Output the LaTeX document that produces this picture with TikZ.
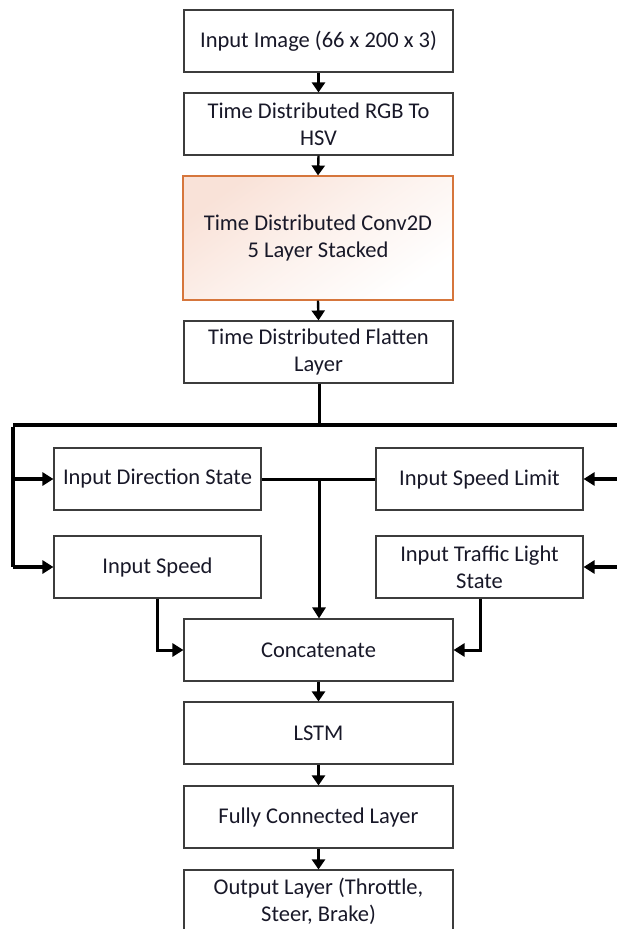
\documentclass[tikz,border=0pt]{standalone}
\usepackage{fontspec}
\setmainfont{Carlito}
\usetikzlibrary{arrows.meta,calc}
\definecolor{txt}{RGB}{24,24,40}
\definecolor{edge}{RGB}{60,60,60}
\definecolor{convedge}{RGB}{214,118,60}
\definecolor{convtint}{RGB}{249,226,216}
\tikzset{
  box/.style={draw=edge, line width=1.1pt, minimum width=269pt, minimum height=62pt,
    align=center, text=txt, font=\fontsize{22.5}{27}\selectfont, inner sep=2pt},
  sidebox/.style={box, minimum width=207pt},
  flow/.style={line width=2.4pt, -{Triangle[length=10pt,width=13pt]}},
  bus/.style={line width=3.6pt},
  busarrow/.style={line width=3.6pt, -{Triangle[length=11pt,width=13pt]}},
  feed/.style={line width=3pt, -{Triangle[length=11pt,width=13pt]}},
  link/.style={line width=3pt},
}
\begin{document}
\begin{tikzpicture}[x=1pt,y=-1pt]
\useasboundingbox (0,0) rectangle (617,929);

% main column
\node[box] (img) at (318.5,41) {Input Image (66 x 200 x 3)};
\node[box] (hsv) at (318.5,124) {Time Distributed RGB To\\HSV};
% soft tint in the convolution block, strongest at the upper left corner
\shade[top color=convtint, bottom color=white, middle color=white!55!convtint, shading angle=35]
  (183,176) rectangle (453,300);
\node[box, draw=convedge, minimum height=124pt, minimum width=270pt] (conv) at (318,238)
  {Time Distributed Conv2D\\5 Layer Stacked};
\node[box] (flat) at (318.5,352) {Time Distributed Flatten\\Layer};

% side inputs
\node[sidebox] (dir) at (157.5,479) {Input Direction State};
\node[sidebox] (spd) at (157.5,567) {Input Speed};
\node[sidebox] (lim) at (479.5,479) {Input Speed Limit};
\node[sidebox] (tl) at (479.5,567) {Input Traffic Light\\State};

% merge and output
\node[box] (cat) at (318.5,650) {Concatenate};
\node[box] (lstm) at (318.5,733) {LSTM};
\node[box] (fc) at (318.5,817) {Fully Connected Layer};
\node[box] (out) at (318.5,901) {Output Layer (Throttle,\\Steer, Brake)};

% bus coordinates
\coordinate (busL) at (13,425);
\coordinate (busM) at (319,425);
\coordinate (busR) at (617,425);
\coordinate (limR) at (617,479);
\coordinate (tlR) at (617,567);
\coordinate (junc) at (319,479);

% straight flow
\draw[flow] (img.south) -- (hsv.north);
\draw[flow] (hsv.south) -- (conv.north);
\draw[flow] (conv.south) -- (flat.north);
\draw[flow] (cat.south) -- (lstm.north);
\draw[flow] (lstm.south) -- (fc.north);
\draw[flow] (fc.south) -- (out.north);

% flatten output onto the bus
\draw[link] (flat.south -| busM) -- (busM);
\draw[bus] (busL) -- (busR);
\draw[bus] ([yshift=-1.8pt]busL) -- (busL |- spd.west);
\draw[busarrow] (busL |- dir.west) -- (dir.west);
\draw[busarrow] (busL |- spd.west) -- (spd.west);
\draw[busarrow] (limR) -- (lim.east);
\draw[busarrow] (tlR) -- (tl.east);

% inputs into concatenate
\draw[link] (dir.east) -- (lim.west);
\draw[feed] (junc) -- (junc |- cat.north);
\draw[feed] (spd.south -| 157,0) |- (cat.west);
\draw[feed] (tl.south -| 480,0) |- (cat.east);
\end{tikzpicture}
\end{document}
